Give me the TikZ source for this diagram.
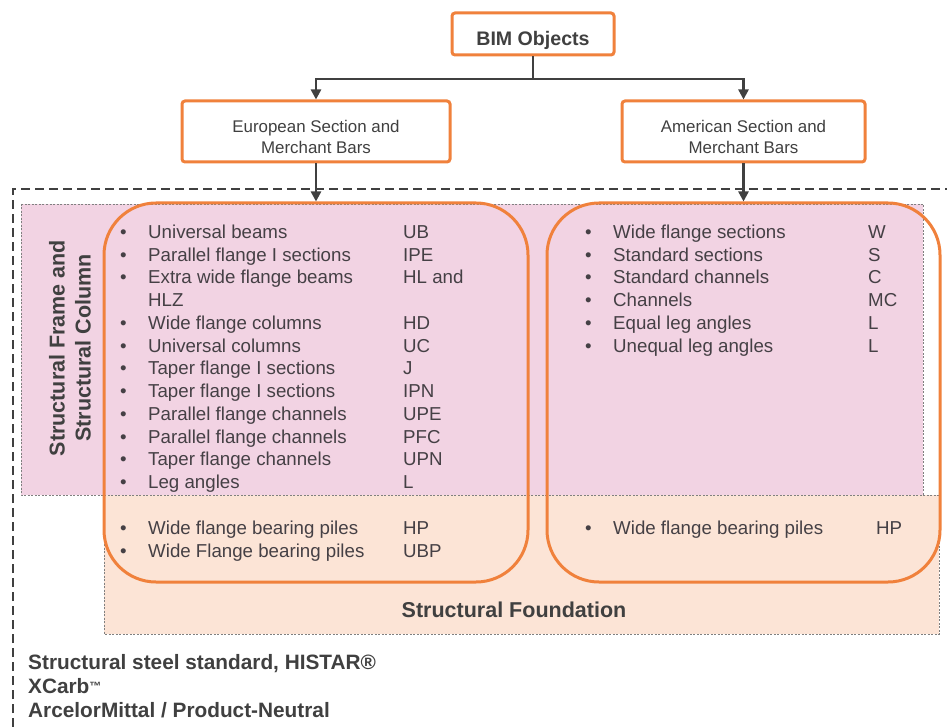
\documentclass[tikz,border=0pt]{standalone}
\usepackage{fontspec}
\setmainfont{Liberation Sans}
\usetikzlibrary{arrows.meta}
\definecolor{orng}{HTML}{F0813C}
\definecolor{pinkf}{HTML}{F2D3E3}
\definecolor{peachf}{HTML}{FCE4D6}
\definecolor{dgray}{HTML}{404040}
\definecolor{txt}{HTML}{454045}
\begin{document}
\begin{tikzpicture}[x=1pt,y=-1pt,
  topbox/.style={draw=orng,line width=3pt,rounded corners=3pt,fill=white,inner sep=0pt},
  boxtext/.style={inner sep=0pt,align=center,text=dgray},
  conn/.style={draw=dgray,line width=2.4pt},
  arr/.style={conn,-{Triangle[width=10pt,length=10pt]}},
  region/.style={draw=gray,line width=0.8pt,dash pattern=on 2pt off 1.5pt},
  group/.style={draw=orng,line width=3pt,rounded corners=52pt,inner sep=0pt},
  li/.style={anchor=base west,inner sep=0pt,text=txt,font=\fontsize{18.7}{22.75}\selectfont},
  hd/.style={inner sep=0pt,text=dgray,font=\bfseries\fontsize{21.5}{26}\selectfont},
]
\useasboundingbox (0,0) rectangle (947,727);
% outer dashed frame
\draw[dgray,line width=2.5pt,dash pattern=on 9pt off 5pt] (13,727) -- (13,189) -- (947,189);
% regions
\path[region,fill=pinkf] (21,204) rectangle (923,495);
\path[region,fill=peachf] (104,495) rectangle (939,634);
% group boxes
\node[group,minimum width=424pt,minimum height=379pt] (lg) at (316,392.5) {};
\node[group,minimum width=393pt,minimum height=379pt] (rg) at (743.5,392.5) {};
% top boxes
\node[topbox,minimum width=162pt,minimum height=42pt] (bim) at (533,34) {};
\node[boxtext,font=\bfseries\fontsize{19.6}{23}\selectfont] (bimt) at (533,40) {BIM Objects};
\node[topbox,minimum width=268pt,minimum height=61pt] (eu) at (316,131.5) {};
\node[boxtext,font=\fontsize{16.9}{21}\selectfont] (eut) at (316,136.5) {European Section and\\Merchant Bars};
\node[topbox,minimum width=243pt,minimum height=61pt] (am) at (743.5,131.5) {};
\node[boxtext,font=\fontsize{16.9}{21}\selectfont] (amt) at (743.5,136.5) {American Section and\\Merchant Bars};
% connectors
\coordinate (j) at (533,79);
\draw[arr] (bim.south) -- (j) -| (eu.north);
\draw[arr] (j) -| (am.north);
\draw[arr] (eu.south) -- (lg.north);
\draw[arr] (am.south) -- (rg.north);
% vertical heading
\node[hd,rotate=90,align=center] (sf) at (70,348) {Structural Frame and\\Structural Column};
% left list
\foreach \t/\c [count=\i] in {Universal beams/UB,Parallel flange I sections/IPE,Extra wide flange beams/HL and,/,Wide flange columns/HD,Universal columns/UC,Taper flange I sections/J,Taper flange I sections/IPN,Parallel flange channels/UPE,Parallel flange channels/PFC,Taper flange channels/UPN,Leg angles/L}{
  \pgfmathsetmacro{\yy}{238.4+22.75*(\i-1)}
  \ifnum\i=4
    \node[li] (lt\i) at (148,\yy) {HLZ};
  \else
    \node[li] (lb\i) at (120,\yy) {•};
    \node[li] (lt\i) at (148,\yy) {\t};
    \node[li] (lc\i) at (403,\yy) {\c};
  \fi
}
% right list
\foreach \t/\c [count=\i] in {Wide flange sections/W,Standard sections/S,Standard channels/C,Channels/MC,Equal leg angles/L,Unequal leg angles/L}{
  \pgfmathsetmacro{\yy}{238.4+22.75*(\i-1)}
  \node[li] (rb\i) at (585,\yy) {•};
  \node[li] (rt\i) at (613,\yy) {\t};
  \node[li] (rc\i) at (868,\yy) {\c};
}
% foundation lists
\node[li] (fb1) at (120,534.7) {•};
\node[li] (ft1) at (148,534.7) {Wide flange bearing piles};
\node[li] (fc1) at (403,534.7) {HP};
\node[li] (fb2) at (120,557.5) {•};
\node[li] (ft2) at (148,557.5) {Wide Flange bearing piles};
\node[li] (fc2) at (403,557.5) {UBP};
\node[li] (gb1) at (585,534.7) {•};
\node[li] (gt1) at (613,534.7) {Wide flange bearing piles};
\node[li] (gc1) at (876,534.7) {HP};
% foundation heading
\node[hd,anchor=base] (fnd) at (514,617.5) {Structural Foundation};
% bottom notes
\node[hd,anchor=base west,font=\bfseries\fontsize{20.8}{24}\selectfont] (n1) at (28,669.5) {Structural steel standard, HISTAR®};
\node[hd,anchor=base west,font=\bfseries\fontsize{20.8}{24}\selectfont] (n2) at (28,693.5) {XCarb\raisebox{3pt}{\fontsize{12}{12}\selectfont ™}};
\node[hd,anchor=base west,font=\bfseries\fontsize{20.8}{24}\selectfont] (n3) at (28,717.5) {ArcelorMittal / Product-Neutral};
\end{tikzpicture}
\end{document}
